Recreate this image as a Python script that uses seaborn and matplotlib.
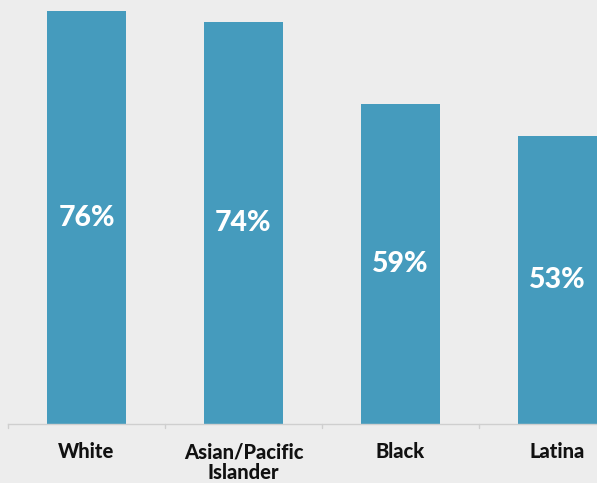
import matplotlib
matplotlib.use("Agg")
import matplotlib.pyplot as plt
import seaborn as sns
import pandas as pd

categories = ["White", "Asian/Pacific\nIslander", "Black", "Latina"]
values = [76, 74, 59, 53]
value_labels = ["76%", "74%", "59%", "53%"]

sns.set_theme(style="white")
plt.rcParams['font.family'] = ['Lato', 'DejaVu Sans']

bg = "#EDEDED"
bar_color = "#459BBD"

fig = plt.figure(figsize=(5.97, 4.83), dpi=100, facecolor=bg)
ax = fig.add_axes([8/597, 59/483, 589/597, 424/483])
ax.set_facecolor(bg)

df = pd.DataFrame({"cat": categories, "val": values})
sns.barplot(data=df, x="cat", y="val", color=bar_color, width=0.503,
            saturation=1, ax=ax, edgecolor="none")

ax.set_xlim(-0.5, -0.5 + 589/157)
ax.set_ylim(0, 424/5.43)

for i, (v, lab) in enumerate(zip(values, value_labels)):
    ax.text(i, v/2, lab, ha="center", va="center", color="white",
            fontsize=20.5, fontweight="black")

for s in ["top", "right", "left"]:
    ax.spines[s].set_visible(False)
ax.spines["bottom"].set_color("#CFCFCF")
ax.spines["bottom"].set_linewidth(1)
ax.set_yticks([])
ax.set_xlabel("")
ax.set_ylabel("")

ax.set_xticks(range(len(categories)))
ax.set_xticklabels(categories, fontsize=14.5, fontweight="black", color="#111111",
                   linespacing=1.1)
ax.tick_params(axis="x", length=0, pad=13)
# separator ticks between categories
for b in [-0.5, 0.5, 1.5, 2.5]:
    ax.plot([b, b], [0, -0.8], color="#CFCFCF", lw=1, clip_on=False)

fig.savefig("out.png", dpi=100, facecolor=bg)
